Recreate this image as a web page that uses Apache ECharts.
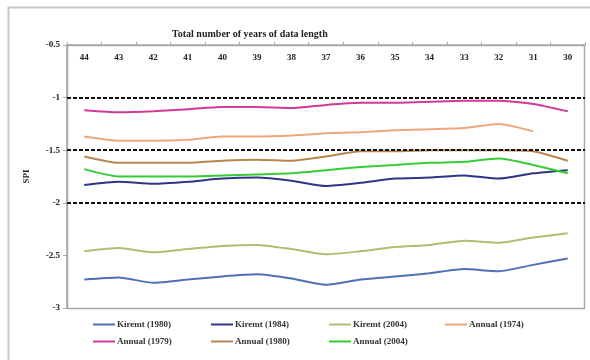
<!DOCTYPE html>
<html>
<head>
<meta charset="utf-8">
<script src="https://cdn.jsdelivr.net/npm/echarts@6/dist/echarts.min.js"></script>
<style>
  html, body { margin: 0; padding: 0; background: #fff; }
  #chart { width: 590px; height: 360px; }
</style>
</head>
<body>
<div id="chart"></div>
<script>
    // years of data length (top axis)
    const years = ['44', '43', '42', '41', '40', '39', '38', '37', '36', '35', '34', '33', '32', '31', '30'];

    // SPI per series
    const kiremt1980 = [-2.73, -2.71, -2.76, -2.73, -2.70, -2.68, -2.72, -2.78, -2.73, -2.70, -2.67, -2.63, -2.65, -2.59, -2.53];
    const kiremt1984 = [-1.83, -1.80, -1.82, -1.80, -1.77, -1.76, -1.79, -1.84, -1.81, -1.77, -1.76, -1.74, -1.77, -1.72, -1.69];
    const kiremt2004 = [-2.46, -2.43, -2.47, -2.44, -2.41, -2.40, -2.44, -2.49, -2.46, -2.42, -2.40, -2.36, -2.38, -2.33, -2.29];
    const annual1974 = [-1.37, -1.41, -1.41, -1.40, -1.37, -1.37, -1.36, -1.34, -1.33, -1.31, -1.30, -1.29, -1.25, -1.32, null];
    const annual1979 = [-1.12, -1.14, -1.13, -1.11, -1.09, -1.09, -1.10, -1.07, -1.05, -1.05, -1.04, -1.03, -1.03, -1.06, -1.13];
    const annual1980 = [-1.56, -1.62, -1.62, -1.62, -1.60, -1.59, -1.60, -1.56, -1.51, -1.51, -1.50, -1.50, -1.50, -1.51, -1.60];
    const annual2004 = [-1.68, -1.75, -1.75, -1.75, -1.74, -1.73, -1.72, -1.69, -1.66, -1.64, -1.62, -1.61, -1.58, -1.64, -1.72];

    // threshold lines
    const thresholds = [-1, -1.5, -2];

    const seriesList = [
        { name: 'Kiremt (1980)', data: kiremt1980, color: '#4f6fb8' },
        { name: 'Kiremt (1984)', data: kiremt1984, color: '#2c3588' },
        { name: 'Kiremt (2004)', data: kiremt2004, color: '#b4bc72' },
        { name: 'Annual (1974)', data: annual1974, color: '#eea67a' },
        { name: 'Annual (1979)', data: annual1979, color: '#d0399a' },
        { name: 'Annual (1980)', data: annual1980, color: '#b8854f' },
        { name: 'Annual (2004)', data: annual2004, color: '#35cc35' }
    ];

    const font = '"Liberation Serif", "DejaVu Serif", serif';
    const textBase = { fontFamily: font, fontWeight: 'bold', fontSize: 9, color: '#222' };

    // legend in a 4 x 2 grid, one legend per entry so columns line up
    const legendCols = [93, 211, 329, 445];
    const legendRows = [320, 337];
    const legends = seriesList.map((s, i) => ({
        data: [s.name],
        left: legendCols[i % 4],
        top: legendRows[Math.floor(i / 4)],
        icon: 'rect',
        itemWidth: 22,
        itemHeight: 2,
        itemGap: 2,
        padding: 0,
        textStyle: Object.assign({}, textBase, { color: '#333', padding: [0, 0, 0, -3] })
    }));

    const chart = echarts.init(document.getElementById('chart'), null, { renderer: 'canvas' });

    chart.setOption({
        animation: false,
        backgroundColor: '#fff',
        title: {
            text: 'Total number of years of data length',
            left: 167,
            top: 24,
            textStyle: Object.assign({}, textBase, { fontSize: 10 })
        },
        legend: legends,
        graphic: [{
            type: 'rect',
            shape: { x: 8.5, y: 7.5, width: 600, height: 400 },
            style: { fill: 'none', stroke: '#c8c8c8', lineWidth: 2 },
            silent: true
        }, {
            type: 'rect',
            shape: { x: 67.5, y: 45.5, width: 517, height: 263 },
            style: { fill: 'none', stroke: '#a8a8a8', lineWidth: 1.5 },
            silent: true,
            z: 1
        }],
        grid: { left: 67, right: 5, top: 45, bottom: 52 },
        xAxis: {
            type: 'category',
            position: 'top',
            data: years,
            boundaryGap: true,
            axisLine: { lineStyle: { color: '#a8a8a8', width: 1.5 } },
            axisTick: { show: true, inside: false, length: 3, lineStyle: { color: '#a8a8a8' } },
            axisLabel: Object.assign({}, textBase, { inside: true, margin: 8 }),
            splitLine: { show: false }
        },
        yAxis: {
            type: 'value',
            min: -3,
            max: -0.5,
            interval: 0.5,
            name: 'SPI',
            nameLocation: 'middle',
            nameRotate: 90,
            nameGap: 36,
            nameTextStyle: textBase,
            axisLine: { show: true, lineStyle: { color: '#a8a8a8', width: 1.5 } },
            axisTick: { show: true, length: 4, lineStyle: { color: '#a8a8a8' } },
            axisLabel: Object.assign({}, textBase, { margin: 7 }),
            splitLine: { show: false }
        },
        series: seriesList.map((s, i) => {
            const item = {
                name: s.name,
                type: 'line',
                data: s.data,
                symbol: 'none',
                smooth: 0.2,
                color: s.color,
                itemStyle: { color: s.color },
                lineStyle: { width: 2, color: s.color },
                z: 3
            };
            if (i === 0) {
                item.markLine = {
                    silent: true,
                    symbol: 'none',
                    label: { show: false },
                    lineStyle: { color: '#111', type: [4, 2], width: 2 },
                    data: thresholds.map(v => ({ yAxis: v }))
                };
            }
            return item;
        })
    });
</script>
</body>
</html>
